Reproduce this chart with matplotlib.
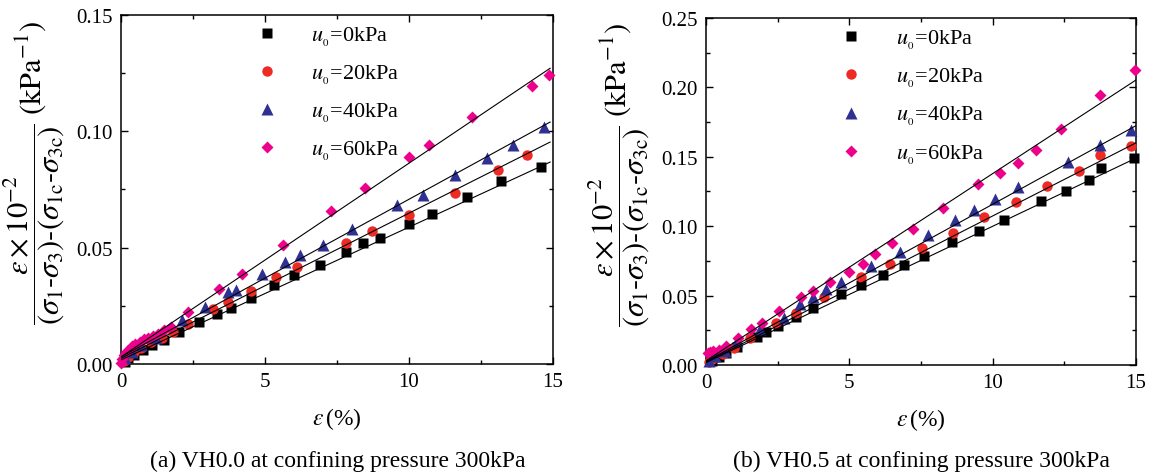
import matplotlib
matplotlib.use('Agg')
import matplotlib.pyplot as plt
from matplotlib.ticker import MultipleLocator

plt.rcParams['font.family'] = ['Liberation Serif', 'DejaVu Serif']
plt.rcParams['mathtext.fontset'] = 'stix'

# (a) VH0.0 - strain (%) and normalised ratio
eps_a_0 = [0.13, 0.26, 0.45, 0.77, 1.09, 1.5, 2.03, 2.72, 3.32, 3.81, 4.5, 5.32, 6.01, 6.91,
           7.81, 8.41, 9.0, 10.0, 10.8, 12.0, 13.2, 14.59]
rat_a_0 = [0.001, 0.0024, 0.0039, 0.006, 0.0082, 0.0103, 0.0138, 0.0178, 0.0213, 0.0239, 0.0282,
           0.0337, 0.038, 0.0425, 0.048, 0.0519, 0.054, 0.060, 0.0646, 0.0716, 0.0787, 0.0848]
eps_a_20 = [0.1, 0.26, 0.45, 0.7, 1.03, 1.42, 1.82, 2.32, 3.21, 3.71, 4.5, 5.4, 6.1, 7.81, 8.7,
            10.0, 11.6, 13.1, 14.1]
rat_a_20 = [0.0013, 0.003, 0.0049, 0.0067, 0.0092, 0.011, 0.0138, 0.0172, 0.0234, 0.0265, 0.0315,
            0.0372, 0.0415, 0.0519, 0.0569, 0.0639, 0.0736, 0.0832, 0.0898]
eps_a_40 = [0.13, 0.38, 0.7, 1.22, 2.12, 2.91, 3.72, 4.01, 4.91, 5.7, 6.2, 7.01, 8.01, 9.59, 10.5,
            11.6, 12.7, 13.6, 14.68]
rat_a_40 = [0.0027, 0.0053, 0.0082, 0.011, 0.0189, 0.0246, 0.031, 0.0317, 0.0385, 0.0437, 0.0468,
            0.0511, 0.058, 0.0683, 0.0726, 0.0812, 0.0884, 0.0941, 0.1016]
eps_a_60 = [0.0, 0.05, 0.1, 0.2, 0.3, 0.4, 0.5, 0.65, 0.8, 0.95, 1.1, 1.3, 1.5, 1.73, 2.32, 3.41,
            4.22, 5.62, 7.31, 8.49, 10.0, 10.69, 12.18, 14.27, 14.87]
rat_a_60 = [0.0005, 0.002, 0.004, 0.0055, 0.0065, 0.0075, 0.0085, 0.0095, 0.0105, 0.011, 0.012,
            0.013, 0.0145, 0.016, 0.0221, 0.0322, 0.0388, 0.0509, 0.0655, 0.0755, 0.0891, 0.0941,
            0.106, 0.1192, 0.1242]
fit_a_x = [0, 14.9]
fit_a_0 = [0.0017, 0.0867]
fit_a_20 = [0.0024, 0.0953]
fit_a_40 = [0.003, 0.1039]
fit_a_60 = [0.003, 0.127]

# (b) VH0.5
eps_b_0 = [0.19, 0.45, 0.7, 1.08, 1.76, 2.08, 2.51, 3.12, 3.73, 4.71, 5.39, 6.19, 6.9, 7.59, 8.59,
           9.52, 10.38, 11.68, 12.55, 13.35, 13.8, 14.93]
rat_b_0 = [0.0029, 0.006, 0.0082, 0.0132, 0.0202, 0.0238, 0.0281, 0.0344, 0.0413, 0.0512, 0.0575,
           0.0649, 0.0721, 0.0786, 0.0885, 0.0962, 0.1046, 0.1178, 0.1255, 0.1332, 0.142, 0.1493]
eps_b_20 = [0.09, 0.22, 0.57, 0.96, 1.53, 2.42, 3.12, 4.11, 5.41, 6.42, 7.52, 8.6, 9.69, 10.8,
            11.9, 13.02, 13.76, 14.84]
rat_b_20 = [0.0022, 0.0041, 0.0077, 0.0125, 0.0192, 0.0305, 0.0377, 0.0486, 0.063, 0.0728, 0.0839,
            0.0954, 0.1065, 0.1173, 0.1286, 0.1397, 0.1514, 0.158]
eps_b_40 = [0.09, 0.32, 0.64, 1.08, 1.89, 2.7, 3.29, 3.72, 4.2, 4.69, 5.76, 6.78, 7.75, 8.69, 9.34,
            10.09, 10.89, 12.64, 13.76, 14.84]
rat_b_40 = [0.0029, 0.0065, 0.0101, 0.0173, 0.0257, 0.0341, 0.0438, 0.0486, 0.0546, 0.0599,
            0.0714, 0.0815, 0.0935, 0.1041, 0.1113, 0.1195, 0.1279, 0.1466, 0.1587, 0.169]
eps_b_60 = [0.06, 0.13, 0.25, 0.45, 0.7, 1.12, 1.57, 1.95, 2.55, 3.32, 3.73, 4.31, 4.97, 5.48,
            5.9, 6.48, 7.22, 8.27, 9.49, 10.25, 10.89, 11.5, 12.39, 13.76, 14.97]
rat_b_60 = [0.0089, 0.0094, 0.0099, 0.0108, 0.0137, 0.0197, 0.0257, 0.0305, 0.0389, 0.049, 0.0534,
            0.0594, 0.0671, 0.0726, 0.0798, 0.0877, 0.0978, 0.1132, 0.1303, 0.138, 0.1454, 0.1548,
            0.17, 0.1945, 0.2127]
fit_b_x = [0, 15]
fit_b_0 = [0.0017, 0.149]
fit_b_20 = [0.002, 0.160]
fit_b_40 = [0.0025, 0.1724]
fit_b_60 = [0.003, 0.2053]

labels = [r'$u_{_0}$=0kPa', r'$u_{_0}$=20kPa', r'$u_{_0}$=40kPa', r'$u_{_0}$=60kPa']
markers = ['s', 'o', '^', 'D']
colors = ['#000000', '#ee2a24', '#2e3192', '#ec008c']
msizes = [7, 7.5, 8, 6.5]

ylab = (r'$\dfrac{\varepsilon\times10^{-2}}'
        r'{(\sigma_1\text{-}\sigma_3)\text{-}(\sigma_{1\mathrm{c}}\text{-}\sigma_{3\mathrm{c}})}'
        r'\ (\mathrm{kPa}^{-1})$')

fig = plt.figure(figsize=(11.52, 4.77), dpi=100)
ax1 = fig.add_axes([0.105, 0.235, 0.375, 0.732])
ax2 = fig.add_axes([0.613, 0.233, 0.373, 0.727])

panels = [
    (ax1, [(eps_a_0, rat_a_0), (eps_a_20, rat_a_20), (eps_a_40, rat_a_40), (eps_a_60, rat_a_60)],
     fit_a_x, [fit_a_0, fit_a_20, fit_a_40, fit_a_60], 0.15),
    (ax2, [(eps_b_0, rat_b_0), (eps_b_20, rat_b_20), (eps_b_40, rat_b_40), (eps_b_60, rat_b_60)],
     fit_b_x, [fit_b_0, fit_b_20, fit_b_40, fit_b_60], 0.25),
]

for ax, series, fx, fits, ymax in panels:
    for (x, y), lab, m, c, s in zip(series, labels, markers, colors, msizes):
        ax.plot(x, y, ls='none', marker=m, color=c, markersize=s, mec='none', label=lab,
                clip_on=False, zorder=3)
    for fy in fits:
        ax.plot(fx, fy, color='black', lw=0.8, zorder=4)
    ax.set_xlim(0, 15)
    ax.set_ylim(0, ymax)
    ax.xaxis.set_major_locator(MultipleLocator(5))
    ax.xaxis.set_minor_locator(MultipleLocator(2.5))
    ax.yaxis.set_major_locator(MultipleLocator(0.05))
    ax.yaxis.set_minor_locator(MultipleLocator(0.025))
    ax.yaxis.set_major_formatter(matplotlib.ticker.FormatStrFormatter('%.2f'))
    ax.tick_params(which='both', direction='in', top=True, right=True, labelsize=15, width=1)
    ax.tick_params(which='major', length=5, pad=6)
    ax.tick_params(which='minor', length=3)
    for sp in ax.spines.values():
        sp.set_linewidth(1.1)
    ax.set_ylabel(ylab, fontsize=22)
    ax.yaxis.set_label_coords(-0.125, 0.55)
    ax.set_xlabel(r'$\varepsilon\,$(%)', fontsize=17, labelpad=10)
    ax.legend(loc='upper left', bbox_to_anchor=(0.255, 1.01), frameon=False, fontsize=16,
              handletextpad=1.0, labelspacing=0.68, borderaxespad=0.2)

fig.text(0.293, 0.02, '(a) VH0.0 at confining pressure 300kPa', ha='center', fontsize=17)
fig.text(0.80, 0.02, '(b) VH0.5 at confining pressure 300kPa', ha='center', fontsize=17)

fig.savefig('out.png', dpi=100)
